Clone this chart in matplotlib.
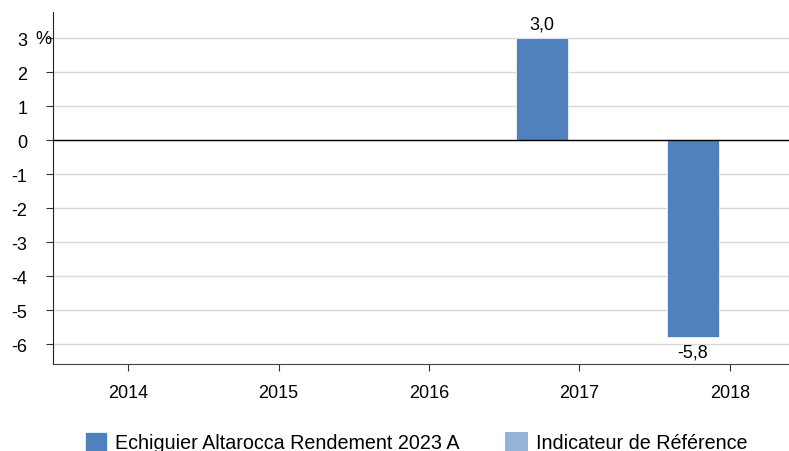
import matplotlib.pyplot as plt
import numpy as np

years = ["2014", "2015", "2016", "2017", "2018"]
fund = [np.nan, np.nan, np.nan, 3.0, -5.8]
index = [np.nan, np.nan, np.nan, np.nan, np.nan]
fund_name = "Echiguier Altarocca Rendement 2023 A"
index_name = "Indicateur de Référence"

plt.rcParams['font.family'] = ['Liberation Sans', 'DejaVu Sans']

fig = plt.figure(figsize=(7.89, 4.52), dpi=100)
ax = fig.add_axes([53 / 789, 1 - 365 / 452, 1 - 53 / 789, (365 - 13) / 452])

x = np.arange(len(years))
w = 0.347
b1 = ax.bar(x - 0.247, fund, w, color='#4f81bd', edgecolor='white', linewidth=0.5,
            label=fund_name, zorder=3)
b2 = ax.bar(x + 0.1, index, w, color='#95b3d7', label=index_name, zorder=3)

# data labels, french decimal comma
for xi, v in zip(x, fund):
    if np.isnan(v):
        continue
    lab = f"{v:.1f}".replace('.', ',')
    off = 14 if v > 0 else -15
    ax.annotate(lab, (xi - 0.247, v), xytext=(0, off), textcoords='offset pixels',
                ha='center', va='center', fontsize=13)

ax.set_xlim(-0.5, 4.5 - 16 / 150)
ax.set_ylim(-6.588, 3.765)
yt = list(range(-6, 4))
ax.set_yticks(yt)
ax.set_yticklabels([str(t) for t in yt], fontsize=13)
ax.annotate("%", (0, 3), xycoords=('axes fraction', 'data'), xytext=(-2, 0),
            textcoords='offset pixels', fontsize=13, ha='right', va='center')
ax.set_xticks(x)
ax.set_xticklabels(years, fontsize=13)

ax.tick_params(axis='y', length=5, pad=13.5, color='#333333')
ax.tick_params(axis='x', length=5, pad=9.5, color='#333333')
ax.grid(axis='y', color='#d9d9d9', linewidth=1, zorder=0)
ax.axhline(0, color='black', linewidth=1, zorder=4)

for s in ['top', 'right']:
    ax.spines[s].set_visible(False)
ax.spines['left'].set_color('#222222')
ax.spines['bottom'].set_color('#444444')

fig.legend(handles=[b1, b2], loc='center', bbox_to_anchor=(416 / 789, 1 - 443 / 452),
           ncol=2, frameon=False, fontsize=14.2, handlelength=1.15, handleheight=1.1,
           handletextpad=0.4, columnspacing=2.3)

fig.savefig('out.png', dpi=100)
